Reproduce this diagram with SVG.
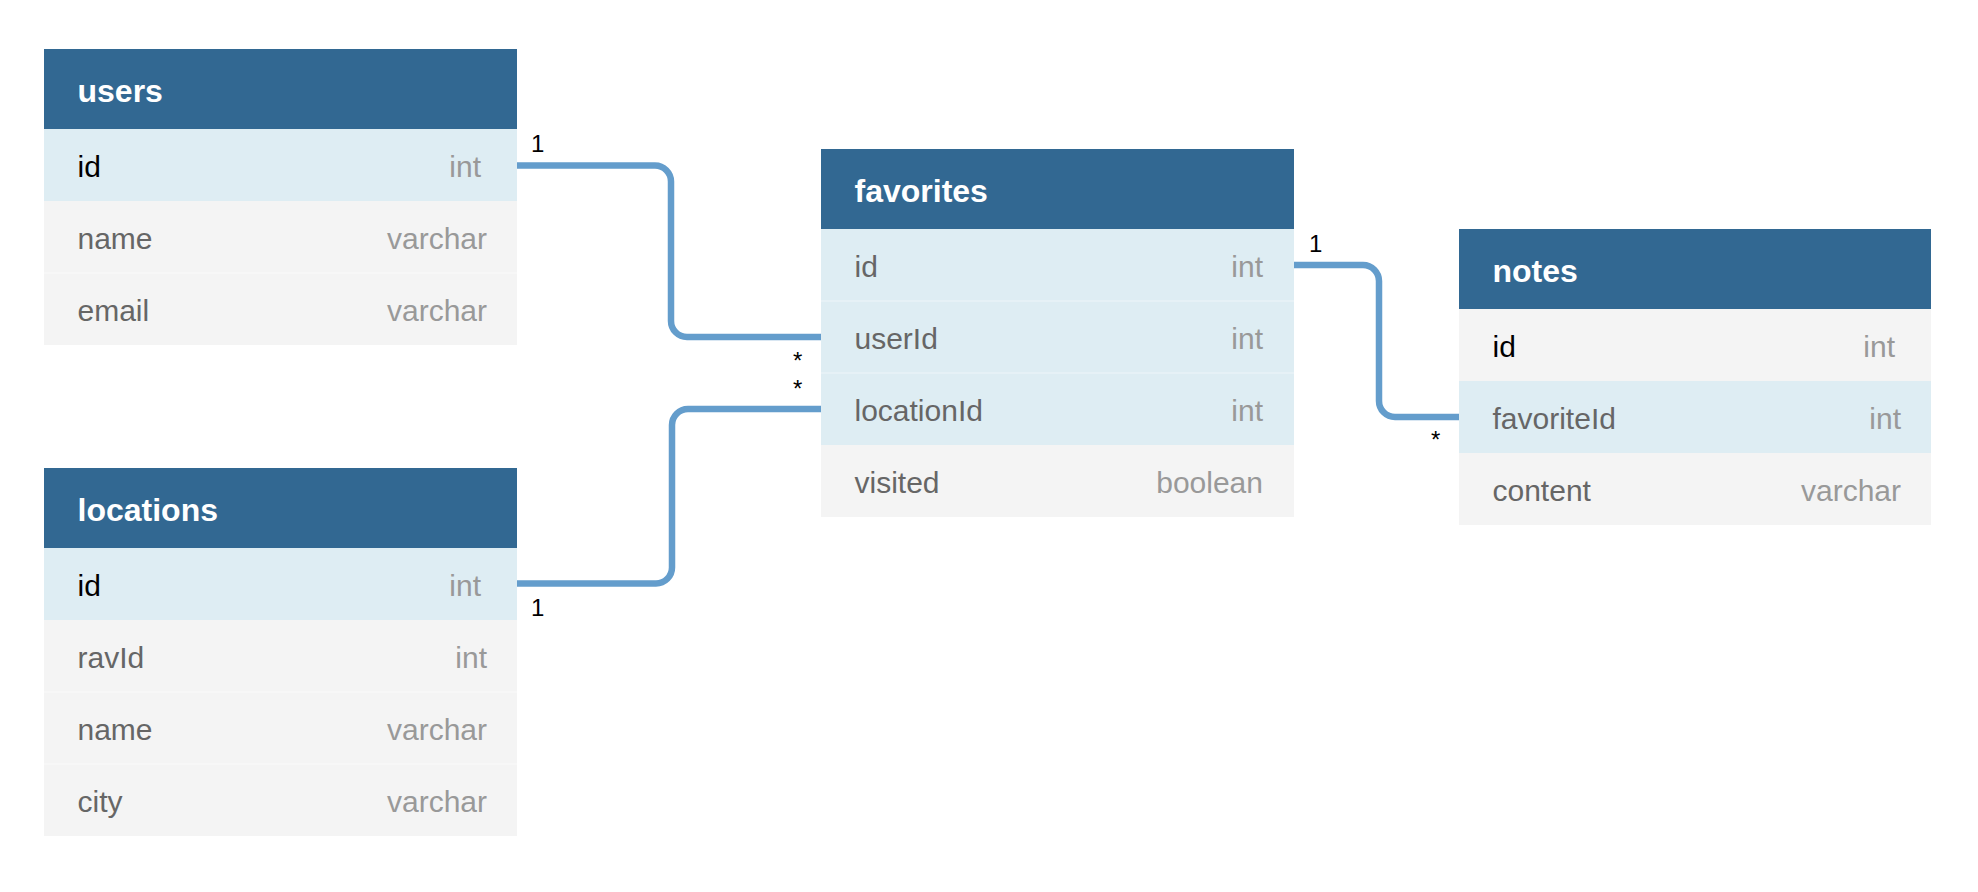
<svg xmlns="http://www.w3.org/2000/svg" width="1978" height="892" viewBox="0 0 1978 892">
<style>
.hdr{fill:#326892}
.pk{fill:#deedf3}
.row{fill:#f4f4f4}
.sep{stroke:#ffffff;stroke-opacity:0.5;stroke-width:1}
.title{font-family:"Liberation Sans",Arial,Helvetica,sans-serif;font-size:32px;font-weight:bold;fill:#ffffff}
.fn{font-family:"Liberation Sans",Arial,Helvetica,sans-serif;font-size:30px;fill:#666666}
.fk{font-family:"Liberation Sans",Arial,Helvetica,sans-serif;font-size:30px;fill:#000000}
.ty{font-family:"Liberation Sans",Arial,Helvetica,sans-serif;font-size:30px;fill:#999999;text-anchor:end}
.lbl{font-family:"Liberation Sans",Arial,Helvetica,sans-serif;font-size:24px;fill:#000000}
.conn{fill:none;stroke:#649dcc;stroke-width:6.5}
</style>
<rect width="1978" height="892" fill="#ffffff"/>

<g id="connectors">
<path class="conn" d="M517,165.5 H655 A16,16 0 0 1 671,181.5 V321 A16,16 0 0 0 687,337 H821"/>
<path class="conn" d="M517,583.5 H656 A16,16 0 0 0 672,567.5 V425 A16,16 0 0 1 688,409 H821"/>
<path class="conn" d="M1294,265 H1363 A16,16 0 0 1 1379,281 V401 A16,16 0 0 0 1395,417 H1459"/>
<text class="lbl" x="531" y="152">1</text>
<text class="lbl" x="793" y="369">*</text>
<text class="lbl" x="793" y="396.5">*</text>
<text class="lbl" x="531" y="616">1</text>
<text class="lbl" x="1309" y="252">1</text>
<text class="lbl" x="1431" y="448">*</text>
</g>

<g id="users">
<rect class="hdr" x="44" y="49" width="473" height="80"/>
<text class="title" x="77.5" y="102">users</text>
<rect class="pk" x="44" y="129" width="473" height="72"/>
<rect class="row" x="44" y="201" width="473" height="144"/>
<line class="sep" x1="44" y1="273" x2="517" y2="273"/>
<text class="fk" x="77.5" y="177">id</text><text class="ty" x="481" y="177">int</text>
<text class="fn" x="77.5" y="249">name</text><text class="ty" x="487" y="249">varchar</text>
<text class="fn" x="77.5" y="321">email</text><text class="ty" x="487" y="321">varchar</text>
</g>

<g id="locations">
<rect class="hdr" x="44" y="468" width="473" height="80"/>
<text class="title" x="77.5" y="521">locations</text>
<rect class="pk" x="44" y="548" width="473" height="72"/>
<rect class="row" x="44" y="620" width="473" height="216"/>
<line class="sep" x1="44" y1="692" x2="517" y2="692"/>
<line class="sep" x1="44" y1="764" x2="517" y2="764"/>
<text class="fk" x="77.5" y="596">id</text><text class="ty" x="481" y="596">int</text>
<text class="fn" x="77.5" y="668">ravId</text><text class="ty" x="487" y="668">int</text>
<text class="fn" x="77.5" y="740">name</text><text class="ty" x="487" y="740">varchar</text>
<text class="fn" x="77.5" y="812">city</text><text class="ty" x="487" y="812">varchar</text>
</g>

<g id="favorites">
<rect class="hdr" x="821" y="149" width="473" height="80"/>
<text class="title" x="854.5" y="202">favorites</text>
<rect class="pk" x="821" y="229" width="473" height="216"/>
<rect class="row" x="821" y="445" width="473" height="72"/>
<line class="sep" x1="821" y1="301" x2="1294" y2="301"/>
<line class="sep" x1="821" y1="373" x2="1294" y2="373"/>
<text class="fn" x="854.5" y="277">id</text><text class="ty" x="1263" y="277">int</text>
<text class="fn" x="854.5" y="349">userId</text><text class="ty" x="1263" y="349">int</text>
<text class="fn" x="854.5" y="421">locationId</text><text class="ty" x="1263" y="421">int</text>
<text class="fn" x="854.5" y="493">visited</text><text class="ty" x="1263" y="493">boolean</text>
</g>

<g id="notes">
<rect class="hdr" x="1459" y="229" width="472" height="80"/>
<text class="title" x="1492.5" y="282">notes</text>
<rect class="row" x="1459" y="309" width="472" height="72"/>
<rect class="pk" x="1459" y="381" width="472" height="72"/>
<rect class="row" x="1459" y="453" width="472" height="72"/>
<text class="fk" x="1492.5" y="357">id</text><text class="ty" x="1895" y="357">int</text>
<text class="fn" x="1492.5" y="429">favoriteId</text><text class="ty" x="1901" y="429">int</text>
<text class="fn" x="1492.5" y="501">content</text><text class="ty" x="1901" y="501">varchar</text>
</g>
</svg>
